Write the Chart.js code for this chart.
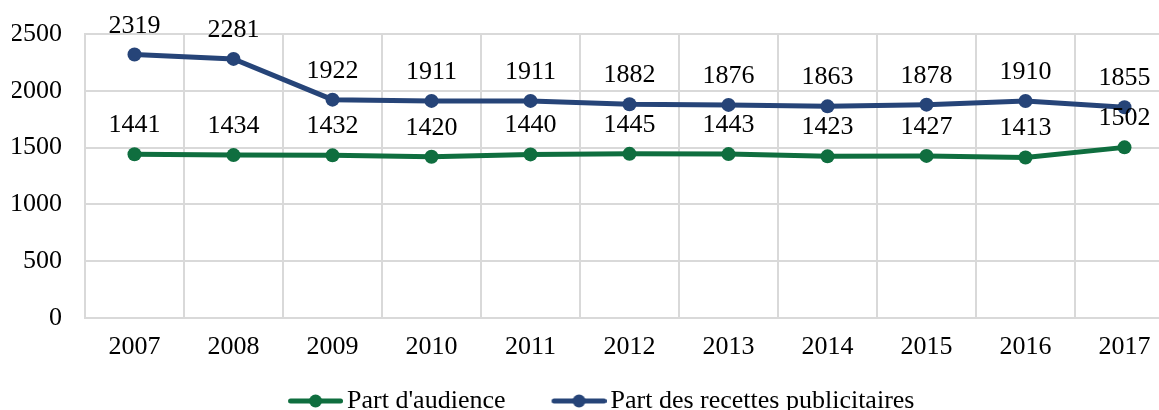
<!DOCTYPE html>
<html>
<head>
<meta charset="utf-8">
<script src="https://cdn.jsdelivr.net/npm/chart.js@4"></script>
<style>
  html, body { margin: 0; padding: 0; background: #fff; overflow: hidden; }
  #wrap { width: 1202px; height: 424px; position: relative; }
</style>
</head>
<body>
<div id="wrap"><canvas id="chart"></canvas></div>
<script>
// Data
const years = ['2007', '2008', '2009', '2010', '2011', '2012', '2013', '2014', '2015', '2016', '2017'];
const audience = [1441, 1434, 1432, 1420, 1440, 1445, 1443, 1423, 1427, 1413, 1502];
const recettes = [2319, 2281, 1922, 1911, 1911, 1882, 1876, 1863, 1878, 1910, 1855];
const yTicks = [0, 500, 1000, 1500, 2000, 2500];

const GREEN = '#0f6e3f';
const BLUE = '#264478';
const FONT = '"Liberation Serif", "DejaVu Serif", serif';
const FONT_SIZE = 26;

// legend marker: line with a dot, pushed to the right of the box
function legendMarker(color) {
    const c = document.createElement('canvas');
    c.width = 100;
    c.height = 16;
    const ctx = c.getContext('2d');
    ctx.strokeStyle = color;
    ctx.lineWidth = 5;
    ctx.lineCap = 'round';
    ctx.beginPath();
    ctx.moveTo(47.5, 8);
    ctx.lineTo(97.5, 8);
    ctx.stroke();
    ctx.fillStyle = color;
    ctx.beginPath();
    ctx.arc(72.5, 8, 6.5, 0, Math.PI * 2);
    ctx.fill();
    return c;
}

// values above each point
const pointLabels = {
    id: 'pointLabels',
    afterDatasetsDraw(chart) {
        const ctx = chart.ctx;
        ctx.save();
        ctx.font = FONT_SIZE + 'px ' + FONT;
        ctx.fillStyle = '#000';
        ctx.textAlign = 'center';
        ctx.textBaseline = 'alphabetic';
        chart.data.datasets.forEach((ds, i) => {
            chart.getDatasetMeta(i).data.forEach((pt, j) => {
                ctx.fillText(String(ds.data[j]), pt.x, pt.y - 22);
            });
        });
        ctx.restore();
    }
};

new Chart(document.getElementById('chart'), {
    type: 'line',
    data: {
        labels: years,
        datasets: [
            {
                label: "Part d'audience",
                data: audience,
                borderColor: GREEN,
                backgroundColor: GREEN,
                borderWidth: 5,
                pointRadius: 7,
                pointHoverRadius: 7,
                pointBorderWidth: 0,
                tension: 0
            },
            {
                label: 'Part des recettes publicitaires',
                data: recettes,
                borderColor: BLUE,
                backgroundColor: BLUE,
                borderWidth: 5,
                pointRadius: 7,
                pointHoverRadius: 7,
                pointBorderWidth: 0,
                tension: 0
            }
        ]
    },
    options: {
        responsive: true,
        maintainAspectRatio: false,
        animation: false,
        layout: {
            padding: { left: 12, right: 28, top: 34, bottom: 0 }
        },
        scales: {
            x: {
                offset: true,
                grid: { offset: true, color: '#d9d9d9', lineWidth: 2, drawTicks: false },
                border: { color: '#d9d9d9', width: 2 },
                ticks: { color: '#000', padding: 14, font: { family: FONT, size: FONT_SIZE } },
                afterFit: (scale) => { scale.height = 60; }
            },
            y: {
                min: 0,
                max: 2500,
                afterBuildTicks: (scale) => { scale.ticks = yTicks.map((v) => ({ value: v })); },
                grid: { color: '#d9d9d9', lineWidth: 2, drawTicks: false },
                border: { color: '#d9d9d9', width: 2 },
                ticks: {
                    color: '#000',
                    padding: 23,
                    font: { family: FONT, size: FONT_SIZE },
                    callback: (v) => String(v)
                },
                afterFit: (scale) => {
                    scale.width = 73;
                    scale.paddingTop = 0;
                    scale.paddingBottom = 0;
                }
            }
        },
        plugins: {
            tooltip: { enabled: false },
            legend: {
                position: 'bottom',
                labels: {
                    color: '#000',
                    font: { family: FONT, size: FONT_SIZE },
                    usePointStyle: true,
                    pointStyleWidth: 82,
                    padding: 10,
                    generateLabels: (chart) => chart.data.datasets.map((ds, i) => ({
                        text: i === chart.data.datasets.length - 1 ? ds.label + '   ' : ds.label,
                        fillStyle: ds.borderColor,
                        strokeStyle: ds.borderColor,
                        lineWidth: 0,
                        pointStyle: legendMarker(ds.borderColor),
                        hidden: false,
                        datasetIndex: i
                    }))
                }
            }
        }
    },
    plugins: [pointLabels]
});
</script>
</body>
</html>
